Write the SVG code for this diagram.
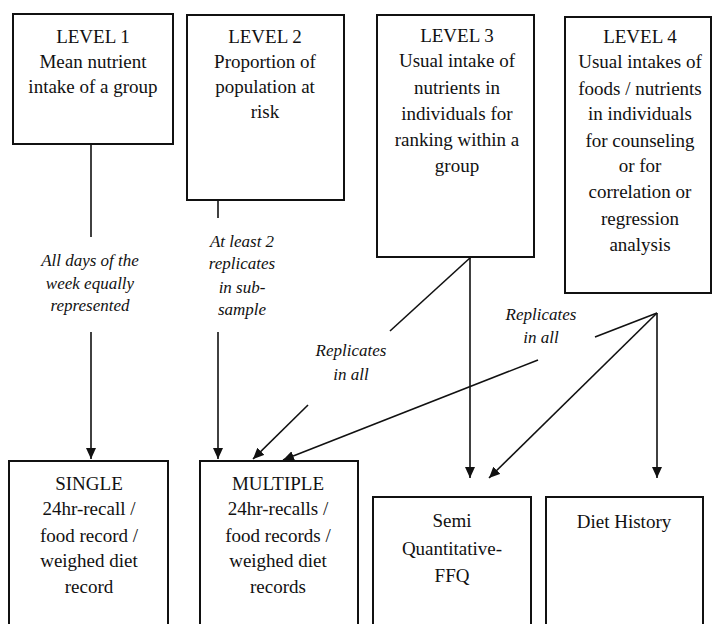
<svg xmlns="http://www.w3.org/2000/svg" width="714" height="624" viewBox="0 0 714 624">
  <style>
    .box { fill: #fff; stroke: #111; stroke-width: 2; }
    .t { font-family: "Liberation Serif", "Times New Roman", serif; font-size: 19px; fill: #111; text-anchor: middle; }
    .lbl { font-family: "Liberation Serif", "Times New Roman", serif; font-size: 17px; font-style: italic; fill: #111; text-anchor: middle; }
    .edge { fill: none; stroke: #111; stroke-width: 1.6; }
    .arr { marker-end: url(#head); }
  </style>
  <defs>
    <marker id="head" markerUnits="userSpaceOnUse" markerWidth="12" markerHeight="10" refX="11" refY="5" orient="auto">
      <path d="M0,0 L11,5 L0,10 z" fill="#111"/>
    </marker>
  </defs>
  <rect width="714" height="624" fill="#fff"/>

  <!-- Connectors -->
  <g id="connectors">
    <!-- Level 1 to single -->
    <line class="edge" x1="91" y1="144" x2="91" y2="237"/>
    <line class="edge arr" x1="91" y1="332" x2="91" y2="459"/>
    <!-- Level 2 to multiple -->
    <line class="edge" x1="218" y1="200" x2="218" y2="218"/>
    <line class="edge arr" x1="218" y1="332" x2="218" y2="459"/>
    <!-- Level 3 to multiple (broken around label) -->
    <line class="edge" x1="471" y1="257" x2="390" y2="331"/>
    <line class="edge arr" x1="308" y1="405" x2="253" y2="459"/>
    <!-- Level 3 to FFQ -->
    <line class="edge arr" x1="470" y1="257" x2="470" y2="478"/>
    <!-- Level 4 fork -->
    <line class="edge" x1="657" y1="313" x2="595" y2="337"/>
    <line class="edge arr" x1="538" y1="360" x2="283" y2="460"/>
    <line class="edge arr" x1="657" y1="313" x2="489" y2="478"/>
    <line class="edge arr" x1="657" y1="313" x2="657" y2="478"/>
  </g>

  <!-- Connector labels -->
  <g id="labels">
    <text class="lbl" x="90"><tspan x="90" y="266">All days of the</tspan><tspan x="90" y="289">week equally</tspan><tspan x="90" y="311">represented</tspan></text>
    <text class="lbl" x="242"><tspan x="242" y="247">At least 2</tspan><tspan x="242" y="269">replicates</tspan><tspan x="242" y="293">in sub-</tspan><tspan x="242" y="315">sample</tspan></text>
    <text class="lbl" x="351"><tspan x="351" y="356">Replicates</tspan><tspan x="351" y="380">in all</tspan></text>
    <text class="lbl" x="541"><tspan x="541" y="320">Replicates</tspan><tspan x="541" y="343">in all</tspan></text>
  </g>

  <!-- Purpose levels -->
  <g id="level1">
    <rect class="box" x="13" y="14" width="160" height="130"/>
    <text class="t"><tspan x="93" y="43">LEVEL 1</tspan><tspan x="93" y="68">Mean nutrient</tspan><tspan x="93" y="93">intake of a group</tspan></text>
  </g>
  <g id="level2">
    <rect class="box" x="187" y="15" width="157" height="185"/>
    <text class="t"><tspan x="265" y="43">LEVEL 2</tspan><tspan x="265" y="68">Proportion of</tspan><tspan x="265" y="93">population at</tspan><tspan x="265" y="118">risk</tspan></text>
  </g>
  <g id="level3">
    <rect class="box" x="377" y="15" width="157" height="242"/>
    <text class="t"><tspan x="457" y="42">LEVEL 3</tspan><tspan x="457" y="67">Usual intake of</tspan><tspan x="457" y="94">nutrients in</tspan><tspan x="457" y="120">individuals for</tspan><tspan x="457" y="146">ranking within a</tspan><tspan x="457" y="172">group</tspan></text>
  </g>
  <g id="level4">
    <rect class="box" x="565" y="17" width="146" height="276"/>
    <text class="t"><tspan x="640" y="43">LEVEL 4</tspan><tspan x="640" y="68">Usual intakes of</tspan><tspan x="640" y="95">foods / nutrients</tspan><tspan x="640" y="120">in individuals</tspan><tspan x="640" y="147">for counseling</tspan><tspan x="640" y="172">or for</tspan><tspan x="640" y="198">correlation or</tspan><tspan x="640" y="225">regression</tspan><tspan x="640" y="251">analysis</tspan></text>
  </g>

  <!-- Methods -->
  <g id="single">
    <rect class="box" x="9" y="461" width="159" height="180"/>
    <text class="t"><tspan x="89" y="490">SINGLE</tspan><tspan x="89" y="515">24hr-recall /</tspan><tspan x="89" y="542">food record /</tspan><tspan x="89" y="567">weighed diet</tspan><tspan x="89" y="593">record</tspan></text>
  </g>
  <g id="multiple">
    <rect class="box" x="200" y="461" width="158" height="180"/>
    <text class="t"><tspan x="278" y="490">MULTIPLE</tspan><tspan x="278" y="515">24hr-recalls /</tspan><tspan x="278" y="542">food records /</tspan><tspan x="278" y="567">weighed diet</tspan><tspan x="278" y="593">records</tspan></text>
  </g>
  <g id="ffq">
    <rect class="box" x="373" y="497" width="158" height="150"/>
    <text class="t"><tspan x="452" y="527">Semi</tspan><tspan x="452" y="555">Quantitative-</tspan><tspan x="452" y="582">FFQ</tspan></text>
  </g>
  <g id="diet-history">
    <rect class="box" x="546" y="497" width="157" height="150"/>
    <text class="t"><tspan x="624" y="528">Diet History</tspan></text>
  </g>
</svg>
